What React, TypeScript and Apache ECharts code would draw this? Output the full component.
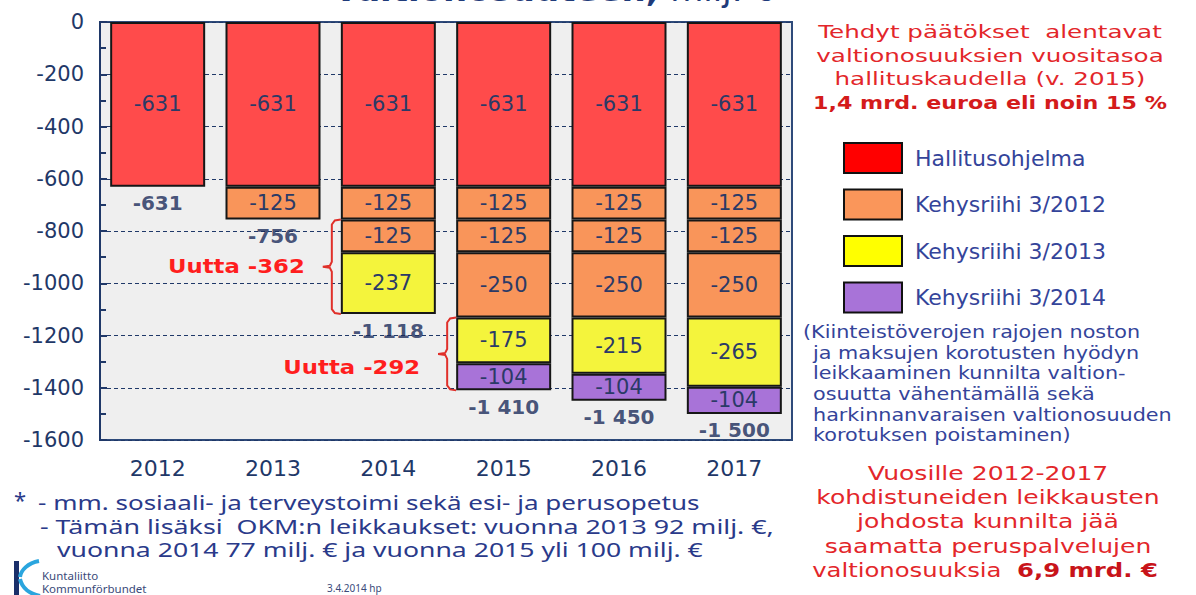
import React, { useEffect, useRef } from 'react';
import * as echarts from 'echarts';

// ---------- data ----------
const years = ['2012', '2013', '2014', '2015', '2016', '2017'];
const hallitusohjelma = [-631, -631, -631, -631, -631, -631];
const kehys2012a = [0, -125, -125, -125, -125, -125];
const kehys2012b = [0, 0, -125, -125, -125, -125];
const kehys2012c = [0, 0, 0, -250, -250, -250];
const kehys2013 = [0, 0, -237, -175, -215, -265];
const kehys2014 = [0, 0, 0, -104, -104, -104];
const legendNames = ['Hallitusohjelma', 'Kehysriihi 3/2012', 'Kehysriihi 3/2013', 'Kehysriihi 3/2014'];
const yMin = -1600;
const yMax = 0;
const yInterval = 200;

const titleBold = 'valtionosuuteen,';
const titleNormal = 'milj. €';
const topNote = ['Tehdyt päätökset  alentavat', 'valtionosuuksien vuositasoa', 'hallituskaudella (v. 2015)'];
const topNoteBold = '1,4 mrd. euroa eli noin 15 %';
const paren = [
  '(Kiinteistöverojen rajojen noston',
  'ja maksujen korotusten hyödyn',
  'leikkaaminen kunnilta valtion-',
  'osuutta vähentämällä sekä',
  'harkinnanvaraisen valtionosuuden',
  'korotuksen poistaminen)',
];
const bottomNote = [
  'Vuosille 2012-2017',
  'kohdistuneiden leikkausten',
  'johdosta kunnilta jää',
  'saamatta peruspalvelujen',
];
const bottomLastNormal = 'valtionosuuksia  ';
const bottomLastBold = '6,9 mrd. €';
const footnotes = [
  '- mm. sosiaali- ja terveystoimi sekä esi- ja perusopetus',
  '- Tämän lisäksi  OKM:n leikkaukset: vuonna 2013 92 milj. €,',
  'vuonna 2014 77 milj. € ja vuonna 2015 yli 100 milj. €',
];

const segments = [
  { name: legendNames[0], data: hallitusohjelma, color: '#ff4b4b' },
  { name: legendNames[1], data: kehys2012a, color: '#f9955a' },
  { name: legendNames[1], data: kehys2012b, color: '#f9955a' },
  { name: legendNames[1], data: kehys2012c, color: '#f9955a' },
  { name: legendNames[2], data: kehys2013, color: '#f4f43c' },
  { name: legendNames[3], data: kehys2014, color: '#a873d8' },
];
const legendColors = ['#ff0000', '#fa965a', '#ffff00', '#a873d8'];

const totals = years.map((_, i) => segments.reduce((s, seg) => s + seg.data[i], 0));

const fmtTotal = (v: number) => {
  const s = Math.abs(v).toString().replace(/\B(?=(\d{3})+(?!\d))/g, ' ');
  return (v < 0 ? '-' : '') + s;
};

const NAVY = '#1f3868';
const TXT_NAVY = '#34449a';
const RED = '#e3262a';
const FONT = '"DejaVu Sans", Verdana, sans-serif';
const FONT2 = '"Noto Sans", "Open Sans", sans-serif';

function txt(x: number, y: number, text: string, o: any = {}) {
  return {
    type: 'text',
    x,
    y,
    scaleX: o.sx ?? 1,
    z: 100,
    style: {
      text,
      fill: o.fill ?? NAVY,
      fontSize: o.size ?? 18,
      fontFamily: o.family ?? FONT,
      fontWeight: o.weight ?? 'normal',
      align: o.align ?? 'left',
      verticalAlign: o.va ?? 'middle',
      rich: o.rich,
    },
  };
}

export default function App() {
  const ref = useRef<HTMLDivElement>(null);

  useEffect(() => {
    document.body.style.margin = '0';
    if (!ref.current) return;
    const chart = echarts.init(ref.current, null, { renderer: 'svg' });

    const barSeries = segments.map((s) => ({
      type: 'bar',
      name: s.name,
      stack: 'total',
      barWidth: 95,
      data: s.data.map((v) => (v === 0 ? '-' : v)),
      itemStyle: { color: s.color, borderColor: '#161616', borderWidth: 2 },
      label: {
        show: true,
        position: 'inside',
        formatter: (p: any) => String(p.value),
        color: '#2b3a67',
        fontSize: 21,
        fontFamily: FONT,
      },
    }));

    chart.setOption({
      animation: false,
      backgroundColor: '#ffffff',
      grid: {
        left: 100,
        right: 404,
        top: 22,
        bottom: 155,
        show: true,
        backgroundColor: '#efefef',
        borderColor: '#2e4a7a',
        borderWidth: 2,
      },
      legend: {
        orient: 'vertical',
        left: 838,
        top: 137,
        itemWidth: 58,
        itemHeight: 30,
        itemGap: 14.5,
        selectedMode: false,
        icon: 'rect',
        itemStyle: { borderColor: '#111', borderWidth: 2 },
        textStyle: { color: TXT_NAVY, fontSize: 22, fontFamily: FONT, padding: [0, 0, 0, 8] },
        data: legendNames.map((n, i) => ({ name: n, itemStyle: { color: legendColors[i], borderColor: '#111', borderWidth: 2 } })),
      },
      xAxis: {
        type: 'category',
        data: years,
        axisLine: { show: false, onZero: false },
        axisTick: { show: false },
        axisLabel: { color: NAVY, fontSize: 22, fontFamily: FONT, margin: 17 },
      },
      yAxis: {
        type: 'value',
        min: yMin,
        max: yMax,
        interval: yInterval,
        axisLine: { show: true, lineStyle: { color: NAVY, width: 2 } },
        axisTick: { show: true, inside: true, length: 7, lineStyle: { color: NAVY, width: 2 } },
        minorTick: { show: true, splitNumber: 2, length: 6, lineStyle: { color: NAVY, width: 2 } },
        axisLabel: { color: NAVY, fontSize: 21, fontFamily: FONT, margin: 16, formatter: (v: number) => String(v) },
        splitLine: { show: true, lineStyle: { color: '#1f3868', width: 1.2, type: [4, 3] } },
      },
      series: [
        ...barSeries,
        {
          type: 'scatter',
          name: 'Yhteensä',
          data: totals,
          symbolSize: 1,
          itemStyle: { color: 'rgba(0,0,0,0)' },
          label: {
            show: true,
            position: 'bottom',
            distance: 6,
            formatter: (p: any) => fmtTotal(p.value),
            color: '#1a2b5a',
            fontSize: 20,
            fontWeight: 'bold',
            fontFamily: FONT,
          },
          z: 5,
        },
      ],
    });

    // ---- annotations computed from data through the axes ----
    const px = (i: number, v: number) => chart.convertToPixel({ xAxisIndex: 0, yAxisIndex: 0 }, [i, v]) as number[];
    const braces: any[] = [];
    const makeBrace = (catIdx: number, topVal: number, botVal: number, label: string, dy: number) => {
      const top = px(catIdx, topVal);
      const bot = px(catIdx, botVal);
      const bx = top[0] - 95 / 2 - 9;
      const t = top[1];
      const b = bot[1];
      const m = (t + b) / 2;
      braces.push({
        type: 'polyline',
        z: 100,
        shape: {
          points: [
            [bx + 9, t], [bx + 3, t + 1], [bx, t + 5], [bx, m - 5], [bx - 2, m - 1], [bx - 9, m],
            [bx - 2, m + 1], [bx, m + 5], [bx, b - 5], [bx + 3, b - 1], [bx + 9, b],
          ],
        },
        style: { stroke: '#e0302a', lineWidth: 2, fill: null },
      });
      braces.push(txt(bx - 27, m + dy, label, { align: 'right', fill: '#ff1e1e', weight: 'bold', size: 19, sx: 1.2 }));
    };
    const stackAt = (i: number, n: number) => segments.slice(0, n).reduce((s, seg) => s + seg.data[i], 0);
    makeBrace(2, stackAt(2, 2), totals[2], 'Uutta ' + (totals[2] - totals[1]), 0);
    makeBrace(3, stackAt(3, 4), totals[3], 'Uutta ' + (totals[3] - totals[2]), 14);

    const statics: any[] = [];
    // title (cut off at the top edge)
    statics.push(
      txt(335, 6, `{b|${titleBold}}  {n|${titleNormal}}`, {
        va: 'bottom',
        fill: '#1f3b7a',
        rich: {
          b: { fontSize: 34, fontWeight: 'bold', fontFamily: FONT, fill: '#1f3b7a' },
          n: { fontSize: 34, fontFamily: FONT, fill: '#1f3b7a' },
        },
      })
    );
    topNote.forEach((l, k) => statics.push(txt(990, 32 + k * 23.5, l, { align: 'center', fill: RED, size: 18.5, sx: 1.33 })));
    statics.push(txt(990, 103, topNoteBold, { align: 'center', fill: '#d41b1b', size: 18.5, weight: 'bold', sx: 1.2 }));
    paren.forEach((l, k) => statics.push(txt(k === 0 ? 803 : 813, 332 + k * 20.6, l, { fill: TXT_NAVY, size: 17, sx: 1.22 })));
    bottomNote.forEach((l, k) => statics.push(txt(988, 473 + k * 24.3, l, { align: 'center', fill: RED, size: 19, sx: 1.32 })));
    statics.push(
      txt(985, 570, `{n|${bottomLastNormal}}{b|${bottomLastBold}}`, {
        align: 'center',
        fill: RED,
        sx: 1.28,
        rich: {
          n: { fontSize: 19, fontFamily: FONT, fill: RED },
          b: { fontSize: 19, fontFamily: FONT, fill: '#c8141a', fontWeight: 'bold' },
        },
      })
    );
    statics.push(txt(14, 499, '*', { fill: '#2a3a8a', size: 22, family: FONT2 }));
    statics.push(txt(38, 502, footnotes[0], { fill: '#2a3a8a', size: 20, family: FONT2, sx: 1.3 }));
    statics.push(txt(40, 526, footnotes[1], { fill: '#2a3a8a', size: 20, family: FONT2, sx: 1.34 }));
    statics.push(txt(57, 549, footnotes[2], { fill: '#2a3a8a', size: 20, family: FONT2, sx: 1.33 }));
    // logo
    statics.push({ type: 'rect', z: 100, shape: { x: 14, y: 561, width: 5, height: 34 }, style: { fill: '#1a2f6a' } });
    statics.push({
      type: 'bezierCurve', z: 100,
      shape: { x1: 39, y1: 561, x2: 20, y2: 577, cpx1: 28, cpy1: 563, cpx2: 21, cpy2: 570 },
      style: { stroke: '#2aa5de', lineWidth: 4, fill: null },
    });
    statics.push({
      type: 'bezierCurve', z: 100,
      shape: { x1: 20, y1: 579, x2: 40, y2: 596, cpx1: 22, cpy1: 588, cpx2: 30, cpy2: 594 },
      style: { stroke: '#2aa5de', lineWidth: 4, fill: null },
    });
    statics.push(txt(42, 575, 'Kuntaliitto', { fill: '#3a4a7a', size: 11.5, family: FONT2 }));
    statics.push(txt(42, 588, 'Kommunförbundet', { fill: '#3a4a7a', size: 11.5, family: FONT2 }));
    statics.push(txt(327, 588, '3.4.2014 hp', { fill: '#3a4a7a', size: 10, family: FONT2 }));

    chart.setOption({ graphic: [...statics, ...braces] });

    return () => chart.dispose();
  }, []);

  return <div ref={ref} style={{ width: 1196, height: 595 }} />;
}
